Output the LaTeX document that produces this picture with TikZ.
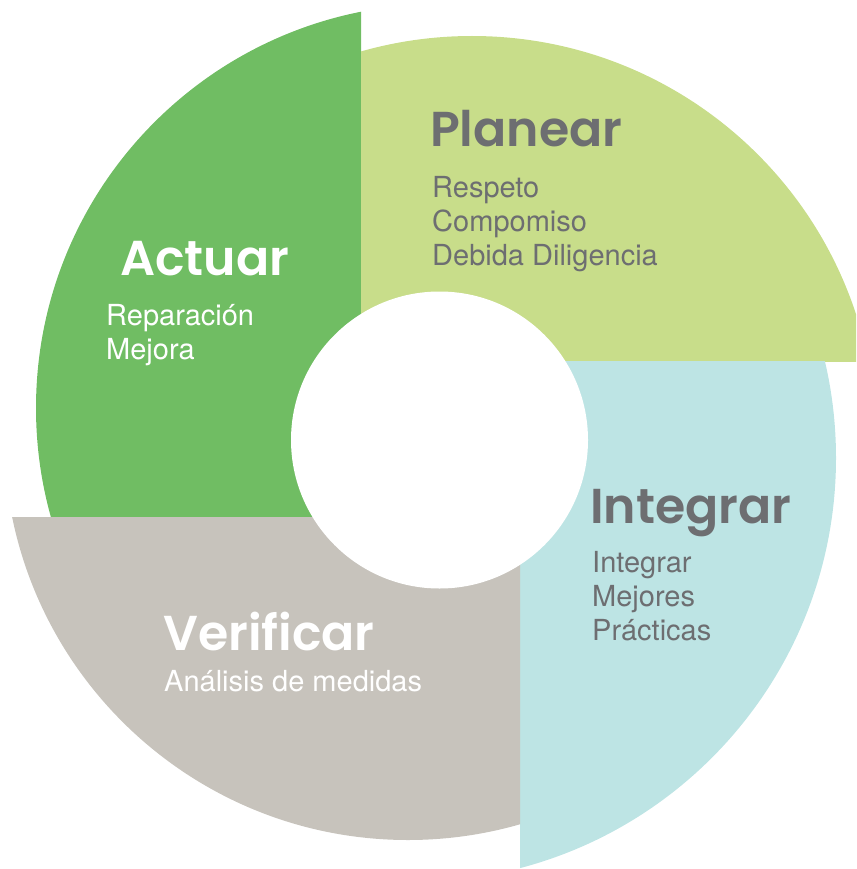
\documentclass[tikz,border=0pt]{standalone}
\usepackage{fontspec}
\setmainfont{TeX Gyre Heros}
\newfontfamily\headfont{Poppins SemiBold}
\usetikzlibrary{positioning}
\definecolor{actuargreen}{HTML}{70BD63}
\definecolor{planeargreen}{HTML}{C8DD8A}
\definecolor{integrarcyan}{HTML}{BDE4E4}
\definecolor{verificargray}{HTML}{C7C3BC}
\definecolor{textgray}{HTML}{6D6E71}

\begin{document}
\begin{tikzpicture}[x=1pt,y=-1pt,
  head/.style={font=\headfont\fontsize{49}{58}\selectfont, anchor=base west, inner sep=0pt},
  items/.style={font=\fontsize{29}{34}\selectfont, align=left, anchor=base west, inner sep=0pt}]
  \useasboundingbox (0,0) rectangle (856,869);
  \clip (0,0) rectangle (856,869);

  \begin{scope}
    \clip (-100,-100) rectangle (361,517);
    \fill[actuargreen] (440,408) circle[radius=404];
  \end{scope}
  \begin{scope}
    \clip (361,-100) rectangle (1000,361);
    \fill[planeargreen] (472,440) circle[radius=404];
  \end{scope}
  \begin{scope}
    \clip (520,361) rectangle (1000,1000);
    \fill[integrarcyan] (412,458) circle[radius=424];
  \end{scope}
  \begin{scope}
    \clip (-100,517) rectangle (520,1000);
    \fill[verificargray] (408,436) circle[radius=404];
  \end{scope}
  \fill[white] (439.5,440) circle[radius=148.5];

  \node[head, text=textgray] (planear) at (430,147) {Planear};
  \node[items, text=textgray] (planearlist) at (432,265) {Respeto\\Compomiso\\Debida Diligencia};
  \node[head, text=white] (actuar) at (120,275) {Actuar};
  \node[items, text=white] (actuarlist) at (106,359) {Reparación\\Mejora};
  \node[head, text=textgray] (integrar) at (590,523) {Integrar};
  \node[items, text=textgray] (integrarlist) at (592,640) {Integrar\\Mejores\\Prácticas};
  \node[head, text=white] (verificar) at (163,650) {Verificar};
  \node[items, text=white] (verificarlist) at (164,691) {Análisis de medidas};
\end{tikzpicture}
\end{document}
